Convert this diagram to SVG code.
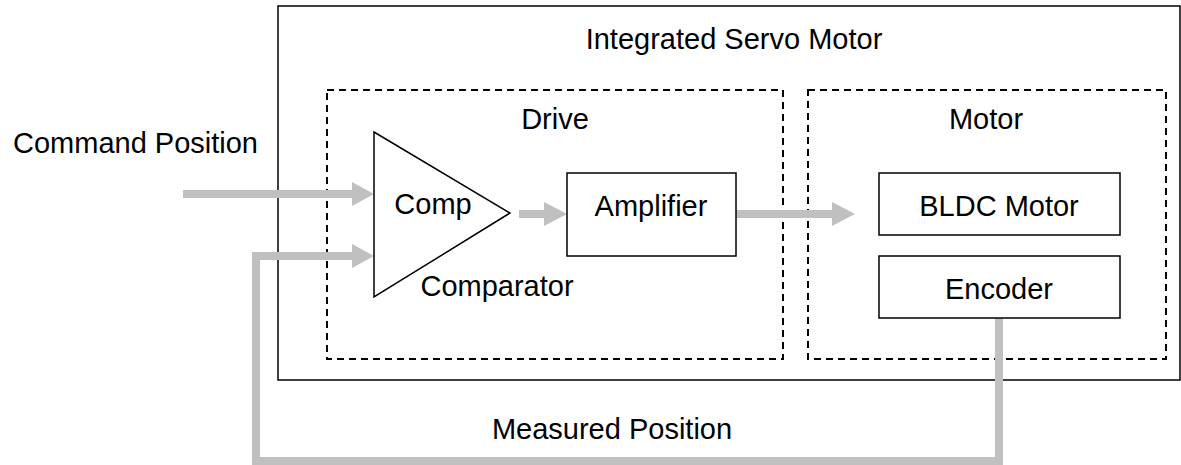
<svg xmlns="http://www.w3.org/2000/svg" width="1181" height="465" viewBox="0 0 1181 465">
<defs>
<style>
.t{font-family:"Liberation Sans",Arial,sans-serif;font-size:29px;fill:#000}
.box{fill:#fff;stroke:#000;stroke-width:1.5}
.dash{fill:none;stroke:#000;stroke-width:2;stroke-dasharray:7,5}
.flow{fill:none;stroke:#c0c0c0;stroke-width:8}
.head{fill:#c0c0c0}
</style>
</defs>
<rect width="1181" height="465" fill="#fff"/>
<g id="servo">
<rect x="278" y="6" width="902" height="374" fill="none" stroke="#000" stroke-width="1.5"/>
<text class="t" x="734" y="49" text-anchor="middle">Integrated Servo Motor</text>
</g>
<g id="drive">
<rect class="dash" x="327" y="90" width="456" height="269"/>
<text class="t" x="555" y="129" text-anchor="middle">Drive</text>
</g>
<g id="motor">
<rect class="dash" x="808" y="90" width="358" height="269"/>
<text class="t" x="986" y="129" text-anchor="middle">Motor</text>
</g>
<g id="command">
<text class="t" x="13" y="153">Command Position</text>
</g>
<g id="measured">
<text class="t" x="612" y="439" text-anchor="middle">Measured Position</text>
</g>
<g id="connectors">
<line class="flow" x1="183" y1="194" x2="354" y2="194"/>
<polygon class="head" points="352,182 374,194 352,206"/>
<polyline class="flow" points="999,318 999,461 256,461 256,256 354,256"/>
<polygon class="head" points="352,244 374,256 352,268"/>
<line class="flow" x1="519" y1="214" x2="546" y2="214"/>
<polygon class="head" points="544,202 567,214 544,226"/>
<line class="flow" x1="736" y1="214" x2="834" y2="214"/>
<polygon class="head" points="832,202 855,214 832,226"/>
</g>
<g id="comparator">
<polygon points="374,132 510,213 374,297" fill="#fff" stroke="#000" stroke-width="1.5"/>
<text class="t" x="433" y="214" text-anchor="middle">Comp</text>
<text class="t" x="497" y="296" text-anchor="middle">Comparator</text>
</g>
<g id="amplifier">
<rect class="box" x="567" y="173" width="169" height="83"/>
<text class="t" x="651" y="216" text-anchor="middle">Amplifier</text>
</g>
<g id="bldc">
<rect class="box" x="879" y="173" width="241" height="62"/>
<text class="t" x="999" y="216" text-anchor="middle">BLDC Motor</text>
</g>
<g id="encoder">
<rect class="box" x="879" y="256" width="241" height="62"/>
<text class="t" x="999" y="299" text-anchor="middle">Encoder</text>
</g>
</svg>
